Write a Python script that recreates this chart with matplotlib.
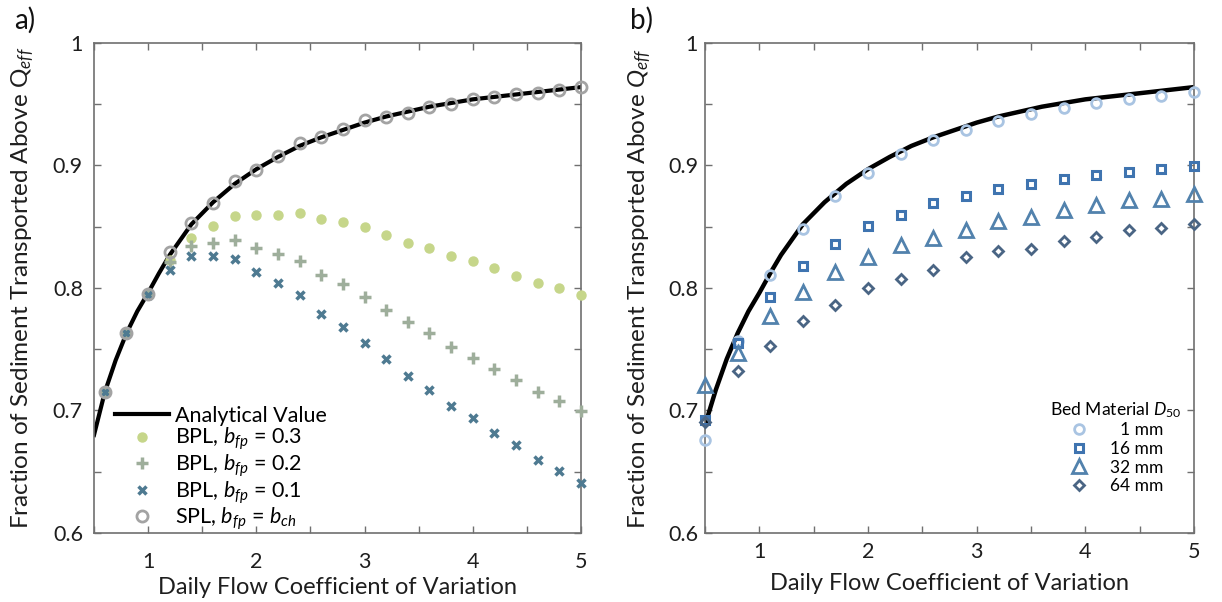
import matplotlib
matplotlib.use("Agg")
import matplotlib.pyplot as plt
from matplotlib.lines import Line2D
from matplotlib.ticker import MultipleLocator, FuncFormatter

plt.rcParams['font.family'] = ['Lato', 'DejaVu Sans']
plt.rcParams['mathtext.fontset'] = 'custom'
plt.rcParams['mathtext.rm'] = 'Lato'
plt.rcParams['mathtext.it'] = 'Lato:italic'

# ---------------- data: panel a ----------------
analytic_x = [0.5, 0.6, 0.7, 0.8, 0.9, 1.0, 1.1, 1.2, 1.4, 1.6, 1.8, 2.0, 2.2, 2.4,
              2.6, 2.8, 3.0, 3.2, 3.4, 3.6, 3.8, 4.0, 4.2, 4.4, 4.6, 4.8, 5.0]
analytic_y_a = [0.680, 0.715, 0.741, 0.763, 0.781, 0.796, 0.812, 0.827, 0.852, 0.870,
                0.885, 0.897, 0.907, 0.916, 0.923, 0.929, 0.935, 0.940, 0.944, 0.948,
                0.951, 0.954, 0.956, 0.958, 0.960, 0.962, 0.964]
analytic_y_b = [0.688, 0.717, 0.742, 0.763, 0.781, 0.796, 0.812, 0.827, 0.852, 0.870,
                0.885, 0.897, 0.907, 0.916, 0.923, 0.929, 0.935, 0.940, 0.944, 0.948,
                0.951, 0.954, 0.956, 0.958, 0.960, 0.962, 0.964]

cv_a = [0.6, 0.8, 1.0, 1.2, 1.4, 1.6, 1.8, 2.0, 2.2, 2.4, 2.6, 2.8, 3.0,
        3.2, 3.4, 3.6, 3.8, 4.0, 4.2, 4.4, 4.6, 4.8, 5.0]
bpl_03 = [0.715, 0.763, 0.795, 0.823, 0.841, 0.851, 0.859, 0.860, 0.860, 0.861, 0.856,
          0.854, 0.850, 0.843, 0.837, 0.833, 0.826, 0.822, 0.816, 0.810, 0.804, 0.800, 0.794]
bpl_02 = [0.715, 0.763, 0.795, 0.821, 0.834, 0.837, 0.839, 0.833, 0.828, 0.822, 0.811,
          0.803, 0.793, 0.782, 0.772, 0.763, 0.752, 0.743, 0.734, 0.725, 0.715, 0.708, 0.700]
bpl_01 = [0.715, 0.763, 0.794, 0.815, 0.826, 0.826, 0.824, 0.813, 0.804, 0.794, 0.779,
          0.768, 0.755, 0.742, 0.728, 0.717, 0.704, 0.694, 0.682, 0.672, 0.660, 0.651, 0.641]
spl = [0.715, 0.763, 0.795, 0.829, 0.853, 0.869, 0.887, 0.896, 0.908, 0.918, 0.923,
       0.930, 0.937, 0.940, 0.943, 0.948, 0.950, 0.954, 0.956, 0.958, 0.959, 0.962, 0.964]

# ---------------- data: panel b ----------------
cv_b = [0.5, 0.8, 1.1, 1.4, 1.7, 2.0, 2.3, 2.6, 2.9, 3.2, 3.5, 3.8, 4.1, 4.4, 4.7, 5.0]
d50_1 = [0.676, 0.757, 0.811, 0.848, 0.875, 0.894, 0.909, 0.921, 0.929, 0.936, 0.942,
         0.947, 0.951, 0.954, 0.957, 0.960]
d50_16 = [0.692, 0.755, 0.793, 0.818, 0.836, 0.851, 0.860, 0.869, 0.875, 0.881, 0.885,
          0.889, 0.892, 0.895, 0.897, 0.900]
d50_32 = [0.721, 0.747, 0.777, 0.797, 0.813, 0.825, 0.835, 0.841, 0.847, 0.855, 0.858,
          0.864, 0.868, 0.872, 0.873, 0.877]
d50_64 = [0.691, 0.732, 0.753, 0.773, 0.786, 0.800, 0.807, 0.815, 0.825, 0.830, 0.832,
          0.838, 0.842, 0.847, 0.849, 0.852]

legend_a = ['Analytical Value', 'BPL, $b_{fp}$ = 0.3', 'BPL, $b_{fp}$ = 0.2',
            'BPL, $b_{fp}$ = 0.1', 'SPL, $b_{fp}$ = $b_{ch}$']
legend_b = ['\u20071 mm', '16 mm', '32 mm', '64 mm']
legend_b_title = 'Bed Material $D_{50}$'
xlabel = 'Daily Flow Coefficient of Variation'
ylabel_a = 'Fraction of Sediment Transported Above Q$_{eff}$'
ylabel_b = 'Fraction of Sediment Transported Above $Q_{eff}$'

W, H = 1222, 602
fig = plt.figure(figsize=(W / 100, H / 100), dpi=100)
fig.patch.set_facecolor('white')

def px_axes(l, r, t, b):
    return fig.add_axes([l / W, 1 - b / H, (r - l) / W, (b - t) / H])

AL, AR, BL, BR, TOP, BOT = 94, 581, 705, 1194, 43, 533
axa = px_axes(AL, AR, TOP, BOT)
axb = px_axes(BL, BR, TOP, BOT)

SPINE = '#707070'
TXT = '#1e1e1e'
def style(ax, xpad, ypad):
    ax.set_xlim(0.5, 5)
    ax.set_ylim(0.6, 1.0)
    ax.xaxis.set_major_locator(MultipleLocator(0.5))
    ax.yaxis.set_major_locator(MultipleLocator(0.05))
    ax.xaxis.set_major_formatter(FuncFormatter(
        lambda v, p: f'{int(round(v))}' if abs(v - round(v)) < 1e-6 and v > 0.9 else ''))
    def yf(v, p):
        k = round(v * 20)
        if k % 2 == 0:
            return '1' if abs(v - 1) < 1e-6 else f'{v:.1f}'
        return ''
    ax.yaxis.set_major_formatter(FuncFormatter(yf))
    ax.tick_params(direction='in', length=5, width=1, color=SPINE, top=True, right=True,
                   labelsize=15.5, labelcolor=TXT)
    ax.tick_params(axis='x', pad=xpad)
    ax.tick_params(axis='y', pad=ypad)
    for s in ax.spines.values():
        s.set_color(SPINE)
        s.set_linewidth(1.2)

style(axa, 13.5, 8)
style(axb, 6.5, 5)

def place_labels(ax, l, r, xl_y, yl_x, ylab):
    w = r - l
    hgt = BOT - TOP
    ax.set_xlabel(xlabel, fontsize=17, color=TXT, va='center')
    ax.xaxis.set_label_coords(0.5, (BOT - xl_y) / hgt)
    ax.set_ylabel(ylab, fontsize=17.5, color=TXT, va='center')
    ax.yaxis.set_label_coords((yl_x - l) / w, 0.5)

place_labels(axa, AL, AR, 587, 23, ylabel_a)
place_labels(axb, BL, BR, 584, 640, ylabel_b)

# panel a
c03, c02, c01, cspl = '#c6d68a', '#9eae9b', '#4e7a91', '#a3a3a3'
axa.plot(analytic_x, analytic_y_a, color='black', lw=3, zorder=2)
axa.plot(cv_a, bpl_03, ls='none', marker='o', ms=6.5, color=c03, mec=c03, zorder=3, clip_on=False)
axa.plot(cv_a, bpl_02, ls='none', marker='+', ms=9, mew=2.5, color=c02, zorder=3, clip_on=False)
axa.plot(cv_a, bpl_01, ls='none', marker='x', ms=6, mew=2.5, color=c01, zorder=3, clip_on=False)
axa.plot(cv_a, spl, ls='none', marker='o', ms=8, mew=2, mfc='none', mec=cspl, zorder=4,
         clip_on=False)

ha = [Line2D([], [], color='black', lw=3),
      Line2D([], [], ls='none', marker='o', ms=6.5, color=c03),
      Line2D([], [], ls='none', marker='+', ms=9, mew=2.5, color=c02),
      Line2D([], [], ls='none', marker='x', ms=6, mew=2.5, color=c01),
      Line2D([], [], ls='none', marker='o', ms=8, mew=2, mfc='none', mec=cspl)]
axa.legend(ha, legend_a, loc='upper left',
           bbox_to_anchor=((115 - AL) / (AR - AL), (BOT - 406) / (BOT - TOP)),
           frameon=False, fontsize=15.5, handlelength=2.5, handletextpad=0.3,
           labelspacing=0.0, borderaxespad=0, borderpad=0)

# panel b
cb1, cb16, cb32, cb64 = '#a9c4e2', '#3f74b0', '#5282ad', '#4a6584'
axb.plot(analytic_x, analytic_y_b, color='black', lw=3.2, zorder=2)
kw1 = dict(ls='none', marker='o', ms=7, mew=2, mfc='none', mec=cb1)
kw16 = dict(ls='none', marker='s', ms=5.8, mew=2.2, mfc='none', mec=cb16)
kw32 = dict(ls='none', marker='^', ms=9.5, mew=2, mfc='none', mec=cb32)
kw64 = dict(ls='none', marker='D', ms=5.6, mew=2, mfc='none', mec=cb64)
axb.plot(cv_b, d50_1, zorder=3, clip_on=False, **kw1)
axb.plot(cv_b, d50_16, zorder=4, clip_on=False, **kw16)
axb.plot(cv_b, d50_32, zorder=4, clip_on=False, **kw32)
axb.plot(cv_b, d50_64, zorder=4, clip_on=False, **kw64)

hb = [Line2D([], [], **kw1), Line2D([], [], **kw16),
      Line2D([], [], **kw32), Line2D([], [], **kw64)]
axb.legend(hb, legend_b, loc='upper center',
           bbox_to_anchor=((1116 - BL) / (BR - BL), (BOT - 400) / (BOT - TOP)),
           frameon=False, fontsize=12.5, handlelength=1.2, handletextpad=1.2,
           labelspacing=0.15, borderaxespad=0, borderpad=0,
           title=legend_b_title, title_fontsize=12.6)

fig.text(14 / W, 1 - 20 / H, 'a)', fontsize=20, va='center', ha='left', color='#111111')
fig.text(630 / W, 1 - 20 / H, 'b)', fontsize=20, va='center', ha='left', color='#111111')

fig.savefig('out.png', dpi=100, facecolor='white')
